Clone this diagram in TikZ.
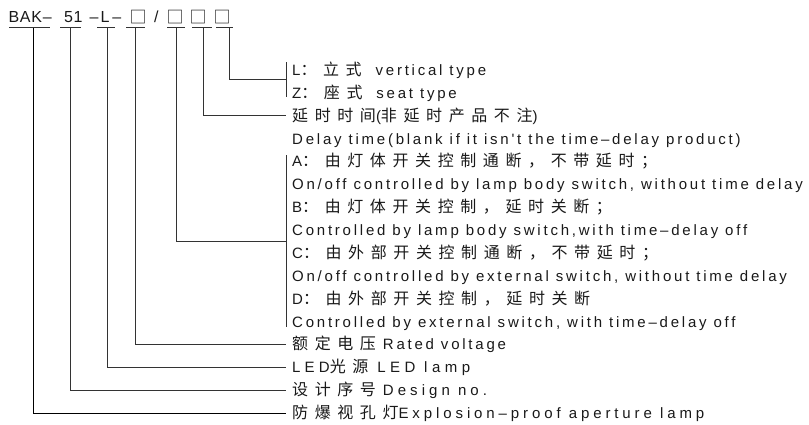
\documentclass[tikz,border=0pt]{standalone}
\usepackage{fontspec}
\setmainfont[LetterSpace=18.5,Ligatures=TeXOff]{Liberation Sans}
\newfontfamily\plainfont[LetterSpace=4]{Liberation Sans}
\newfontfamily\cjk{Noto Sans CJK SC}
\newdimen\trkamt \trkamt=6.6pt
\def\trkA#1#2{#1\ifx#2\relax\else\kern\trkamt\expandafter\trkA\expandafter#2\fi}
\newcommand\ck[1]{{\cjk\fontsize{16}{18}\selectfont\trkA#1\relax}}
\newcommand\wide[2]{{\addfontfeature{LetterSpace=#1}#2}}
\begin{document}
\begin{tikzpicture}[x=1pt,y=-1pt,
  conn/.style={draw=black!80, line width=0.9pt},
  lbl/.style={anchor=base west, inner sep=0pt, font=\fontsize{15}{17}\selectfont, text=black!90},
  top/.style={anchor=base west, inner sep=0pt, font=\plainfont\fontsize{16}{18}\selectfont, text=black!90},
  sq/.style={anchor=center, inner sep=0pt, font=\cjk\fontsize{17}{18}\selectfont, text=black!90}]
\useasboundingbox (0,0) rectangle (809,424);
% top code
\node[top] (bak) at (8.5,22.5) {BAK\kern1pt–};
\node[top] (n51) at (64,22.5) {51};
\node[top] (nl) at (89.5,22.5) {–\kern2pt L\kern3pt–};
\node[sq] (s1) at (138,17.5) {□};
\node[top] (sl) at (154,22.5) {/};
\node[sq] (s2) at (175,17.5) {□};
\node[sq] (s3) at (198,17.5) {□};
\node[sq] (s4) at (222,17.5) {□};
% underlines
\draw[conn] (9,27.5) -- (50,27.5);
\draw[conn] (60,27.5) -- (81,27.5);
\draw[conn] (97,27.5) -- (115,27.5);
\draw[conn] (126,27.5) -- (145,27.5);
\draw[conn] (167,27.5) -- (185,27.5);
\draw[conn] (192,27.5) -- (212,27.5);
\draw[conn] (216,27.5) -- (233,27.5);
% rows
\foreach \i/\t in {
 0/{L\ck{：立式}\ \ vertical type},
 1/{Z\ck{：座式}\ \ seat type},
 2/{\ck{延时时间}(\ck{非延时产品不注})},
 3/{Delay time(blank if it isn't the time–delay product)},
 4/{A\ck{：由灯体开关控制通断，不带延时；}},
 5/{On/off controlled by lamp body switch, without time delay},
 6/{B\ck{：由灯体开关控制，延时关断；}},
 7/{Controlled by lamp body switch,with time–delay off},
 8/{C\ck{：由外部开关控制通断，不带延时；}},
 9/{On/off controlled by external switch, without time delay},
 10/{D\ck{：由外部开关控制，延时关断}},
 11/{Controlled by external switch, with time–delay off},
 12/{\ck{额定电压} Rated voltage},
 13/{\wide{28}{LED}\ck{光源}\hspace{9pt}\wide{30}{LED lamp}},
 14/{\ck{设计序号} \wide{27}{Design no.}},
 15/{\ck{防爆视孔灯}\wide{26}{Explosion–proof aperture lamp}}}
 {\node[lbl] (r\i) at (292,{70+22.87*\i+5.5}) {\t};}
% brackets
\coordinate (b1t) at (286,62);
\coordinate (b1b) at (286,97);
\draw[conn] (b1t) -- (b1b);
\coordinate (b2t) at (286,155);
\coordinate (b2b) at (286,327);
\draw[conn] (b2t) -- (b2b);
% connectors
\draw[conn] (229,27.5) |- (286,79);
\draw[conn] (203,27.5) |- (286,115.7);
\draw[conn] (176,27.5) |- (286,241);
\draw[conn] (135,27.5) |- (286,344.5);
\draw[conn] (107,27.5) |- (286,367.4);
\draw[conn] (70,27.5) |- (286,390.2);
\draw[conn,draw=black] (33,27.5) |- (286,413);
\end{tikzpicture}
\end{document}
